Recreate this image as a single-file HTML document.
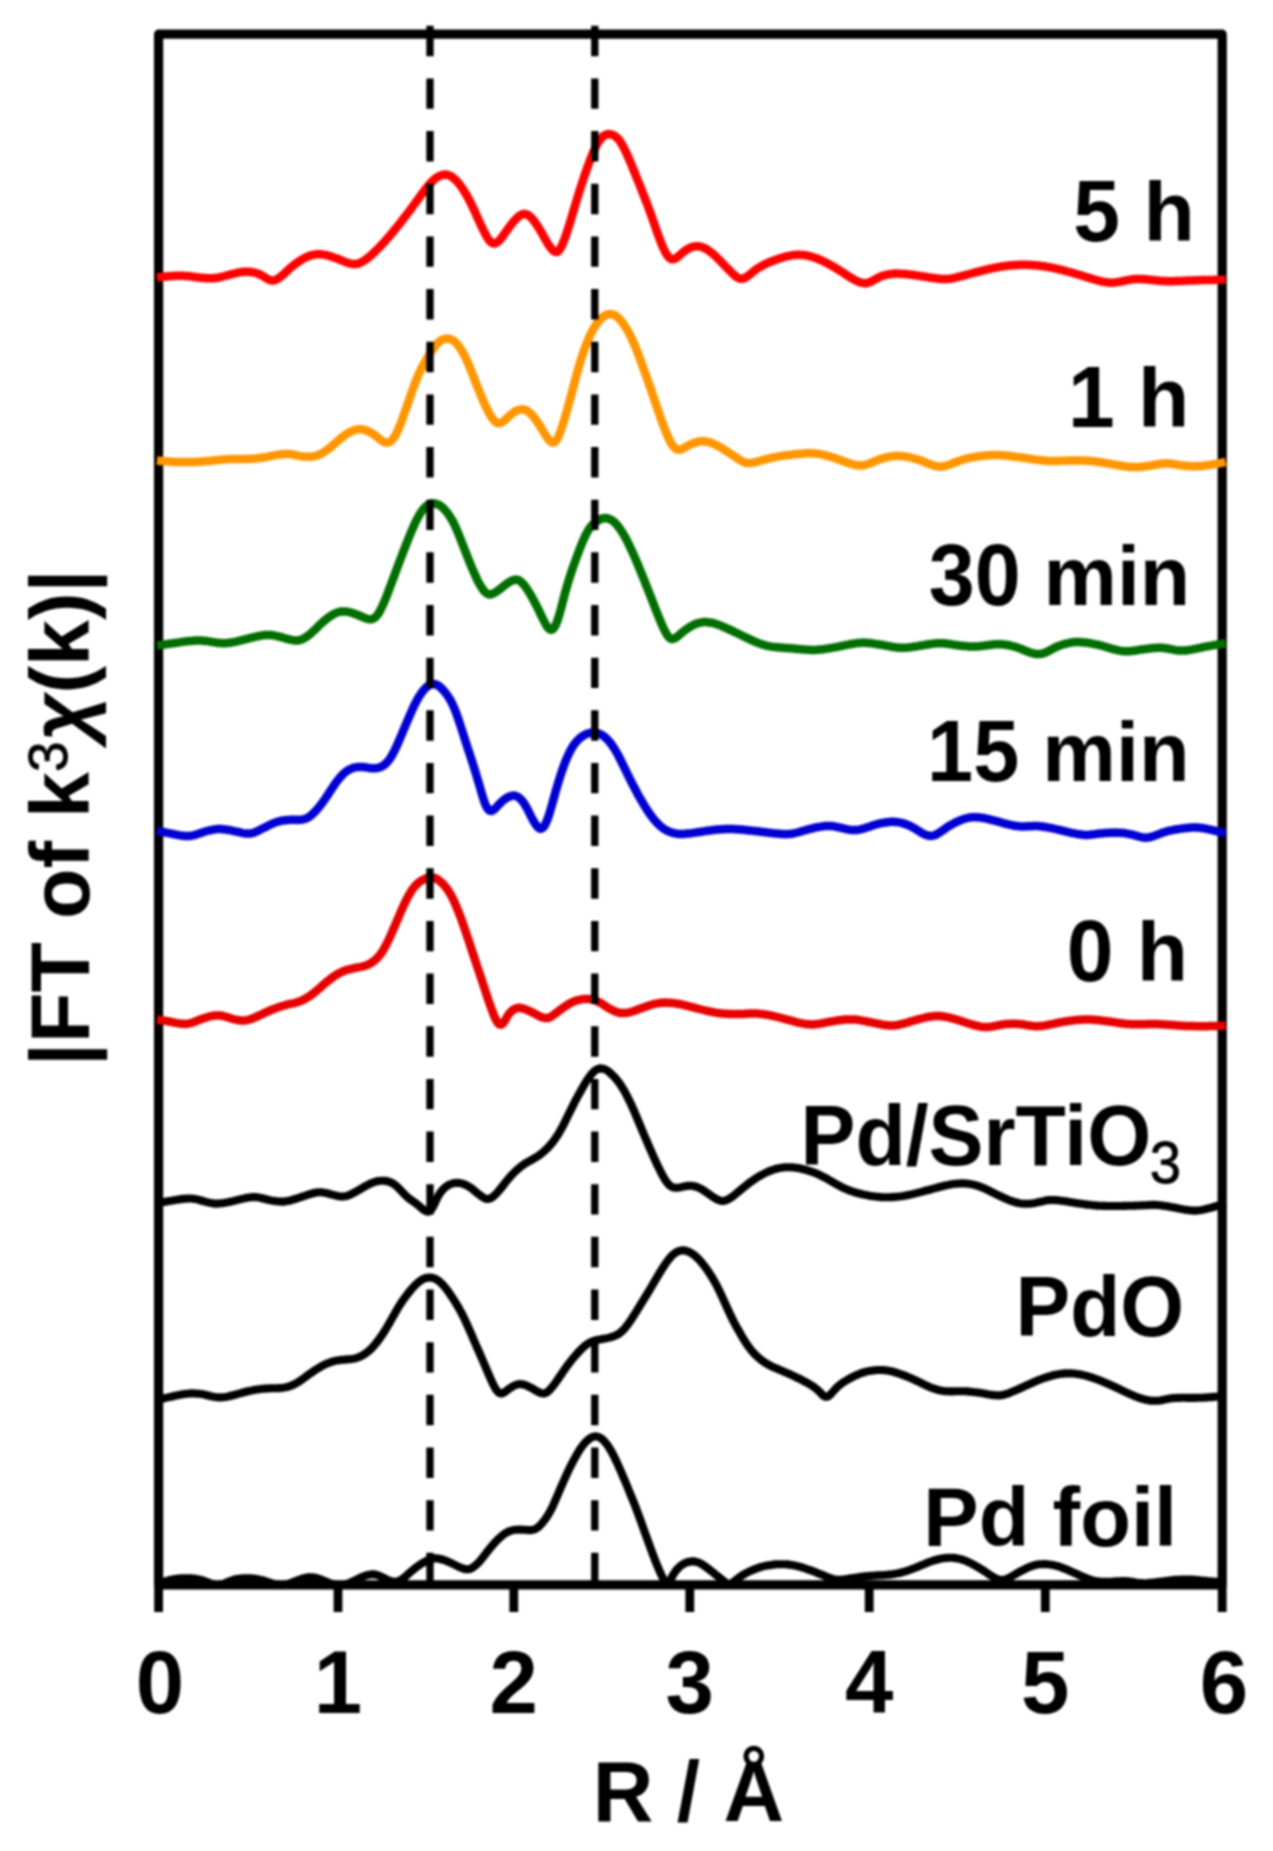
<!DOCTYPE html>
<html lang="en"><head><meta charset="utf-8"><title>EXAFS Fourier transforms</title>
<style>
html,body{margin:0;padding:0;background:#fff}
svg{display:block}
#fig{width:1273px;height:1851px;filter:blur(1px)}
text{font-family:"Liberation Sans",sans-serif;font-weight:bold;fill:#000}
</style></head><body>
<div id="fig">
<svg width="1273" height="1851" viewBox="0 0 1273 1851">
<rect width="1273" height="1851" fill="#fff"/>
<rect x="158.6" y="34.2" width="1063.6" height="1550.6" fill="none" stroke="#000" stroke-width="9.2" stroke-linejoin="round"/>
<g stroke="#000" stroke-width="8.8">
<line x1="158.6" y1="1584.8" x2="158.6" y2="1612"/>
<line x1="338" y1="1584.8" x2="338" y2="1612"/>
<line x1="513.8" y1="1584.8" x2="513.8" y2="1612"/>
<line x1="689.8" y1="1584.8" x2="689.8" y2="1612"/>
<line x1="869.2" y1="1584.8" x2="869.2" y2="1612"/>
<line x1="1045.3" y1="1584.8" x2="1045.3" y2="1612"/>
<line x1="1222.2" y1="1584.8" x2="1222.2" y2="1612"/>
</g>
<g fill="none" stroke-width="8.5" stroke-linejoin="round" stroke-linecap="butt">
<path stroke="#000" stroke-width="8.1" d="M157.0 1584.5L159.0 1583.7 161.0 1582.9 163.0 1582.2 165.0 1581.5 167.0 1580.9 169.0 1580.3 171.0 1579.8 173.0 1579.4 175.0 1579.0 177.0 1578.7 179.0 1578.5 181.0 1578.3 183.0 1578.2 185.0 1578.2 187.0 1578.2 189.0 1578.3 191.0 1578.4 193.0 1578.5 195.0 1578.8 197.0 1579.1 199.0 1579.5 201.0 1579.9 203.0 1580.5 205.0 1581.2 207.0 1582.0 209.0 1582.8 211.0 1583.6 213.0 1584.2 215.0 1584.7 217.0 1585.0 219.0 1584.9 221.0 1584.6 223.0 1584.0 225.0 1583.2 227.0 1582.3 229.0 1581.5 231.0 1580.7 233.0 1580.0 235.0 1579.5 237.0 1579.0 239.0 1578.7 241.0 1578.5 243.0 1578.3 245.0 1578.2 247.0 1578.2 249.0 1578.3 251.0 1578.4 253.0 1578.6 255.0 1578.8 257.0 1579.1 259.0 1579.5 261.0 1579.9 263.0 1580.4 265.1 1581.0 267.1 1581.7 269.1 1582.4 271.1 1583.1 273.1 1583.7 275.1 1584.3 277.1 1584.8 279.1 1585.0 281.1 1585.1 283.1 1584.9 285.1 1584.6 287.1 1584.2 289.1 1583.6 291.1 1582.9 293.1 1582.1 295.1 1581.3 297.1 1580.6 299.1 1579.8 301.1 1579.1 303.1 1578.4 305.1 1577.9 307.1 1577.5 309.1 1577.2 311.1 1577.2 313.1 1577.4 315.1 1577.7 317.1 1578.2 319.1 1578.9 321.1 1579.6 323.1 1580.4 325.1 1581.3 327.1 1582.1 329.1 1582.9 331.1 1583.6 333.1 1584.3 335.1 1584.8 337.1 1585.1 339.1 1585.3 341.1 1585.2 343.1 1585.0 345.1 1584.5 347.1 1583.8 349.1 1583.1 351.1 1582.2 353.1 1581.3 355.1 1580.3 357.1 1579.3 359.1 1578.3 361.1 1577.4 363.1 1576.5 365.1 1575.8 367.1 1575.1 369.1 1574.7 371.1 1574.4 373.1 1574.3 375.1 1574.5 377.1 1575.0 379.1 1575.7 381.1 1576.6 383.1 1577.6 385.1 1578.6 387.1 1579.6 389.1 1580.5 391.1 1581.2 393.1 1581.6 395.1 1581.8 397.1 1581.6 399.1 1580.9 401.1 1579.8 403.1 1578.5 405.1 1576.9 407.1 1575.1 409.1 1573.3 411.1 1571.5 413.1 1569.8 415.1 1568.2 417.1 1566.7 419.1 1565.3 421.1 1563.9 423.1 1562.7 425.1 1561.6 427.1 1560.6 429.1 1559.8 431.1 1559.1 433.1 1558.6 435.1 1558.4 437.1 1558.4 439.1 1558.7 441.1 1559.2 443.1 1559.7 445.1 1560.4 447.1 1561.2 449.1 1562.1 451.1 1563.0 453.1 1564.0 455.1 1565.0 457.1 1566.0 459.1 1567.0 461.1 1567.8 463.1 1568.5 465.1 1569.1 467.1 1569.3 469.1 1569.1 471.1 1568.5 473.1 1567.3 475.1 1565.8 477.1 1564.0 479.2 1561.9 481.2 1559.5 483.2 1557.0 485.2 1554.4 487.2 1551.8 489.2 1549.3 491.2 1546.8 493.2 1544.5 495.2 1542.2 497.2 1540.1 499.2 1538.2 501.2 1536.4 503.2 1534.8 505.2 1533.4 507.2 1532.2 509.2 1531.3 511.2 1530.6 513.2 1530.1 515.2 1529.8 517.2 1529.7 519.2 1529.6 521.2 1529.6 523.2 1529.7 525.2 1529.8 527.2 1530.0 529.2 1530.1 531.2 1530.1 533.2 1529.8 535.2 1529.1 537.2 1527.9 539.2 1526.3 541.2 1524.2 543.2 1521.9 545.2 1519.3 547.2 1516.4 549.2 1513.1 551.2 1509.4 553.2 1505.2 555.2 1500.7 557.2 1496.0 559.2 1491.3 561.2 1486.6 563.2 1482.1 565.2 1477.6 567.2 1473.3 569.2 1469.1 571.2 1465.0 573.2 1461.1 575.2 1457.4 577.2 1453.9 579.2 1450.6 581.2 1447.6 583.2 1444.9 585.2 1442.5 587.2 1440.6 589.2 1438.9 591.2 1437.6 593.2 1436.8 595.2 1436.4 597.2 1436.5 599.2 1437.2 601.2 1438.4 603.2 1440.1 605.2 1442.2 607.2 1444.8 609.2 1447.8 611.2 1451.1 613.2 1454.8 615.2 1458.9 617.2 1463.1 619.2 1467.6 621.2 1472.1 623.2 1476.8 625.2 1481.5 627.2 1486.3 629.2 1491.2 631.2 1496.1 633.2 1501.0 635.2 1506.1 637.2 1511.4 639.2 1516.7 641.2 1522.2 643.2 1527.8 645.2 1533.3 647.2 1538.9 649.2 1544.4 651.2 1549.9 653.2 1555.2 655.2 1560.5 657.2 1565.5 659.2 1570.2 661.2 1574.6 663.2 1578.8 665.2 1582.8 667.2 1583.9 669.2 1582.0 671.2 1578.5 673.2 1574.7 675.2 1571.6 677.2 1569.1 679.2 1567.1 681.2 1565.4 683.2 1564.1 685.2 1563.0 687.2 1562.2 689.2 1561.7 691.2 1561.4 693.3 1561.4 695.3 1561.6 697.3 1562.1 699.3 1562.8 701.3 1563.8 703.3 1565.1 705.3 1566.5 707.3 1568.0 709.3 1569.5 711.3 1571.1 713.3 1572.7 715.3 1574.3 717.3 1575.9 719.3 1577.5 721.3 1579.1 723.3 1580.7 725.3 1582.4 727.3 1583.7 729.3 1584.0 731.3 1583.3 733.3 1582.1 735.3 1580.6 737.3 1578.9 739.3 1577.4 741.3 1576.0 743.3 1574.7 745.3 1573.5 747.3 1572.5 749.3 1571.5 751.3 1570.6 753.3 1569.7 755.3 1568.9 757.3 1568.2 759.3 1567.5 761.3 1566.9 763.3 1566.4 765.3 1565.9 767.3 1565.5 769.3 1565.2 771.3 1564.9 773.3 1564.6 775.3 1564.4 777.3 1564.3 779.3 1564.2 781.3 1564.2 783.3 1564.2 785.3 1564.3 787.3 1564.4 789.3 1564.6 791.3 1564.9 793.3 1565.2 795.3 1565.6 797.3 1566.1 799.3 1566.6 801.3 1567.2 803.3 1567.8 805.3 1568.5 807.3 1569.2 809.3 1569.9 811.3 1570.6 813.3 1571.3 815.3 1572.1 817.3 1572.9 819.3 1573.7 821.3 1574.5 823.3 1575.3 825.3 1576.2 827.3 1577.0 829.3 1577.8 831.3 1578.5 833.3 1579.1 835.3 1579.6 837.3 1579.8 839.3 1579.9 841.3 1579.8 843.3 1579.5 845.3 1579.2 847.3 1578.9 849.3 1578.6 851.3 1578.3 853.3 1578.0 855.3 1577.7 857.3 1577.4 859.3 1577.1 861.3 1576.8 863.3 1576.6 865.3 1576.4 867.3 1576.1 869.3 1576.0 871.3 1575.8 873.3 1575.7 875.3 1575.5 877.3 1575.4 879.3 1575.3 881.3 1575.2 883.3 1575.1 885.3 1575.0 887.3 1574.8 889.3 1574.6 891.3 1574.4 893.3 1574.1 895.3 1573.8 897.3 1573.4 899.3 1573.0 901.3 1572.5 903.3 1571.9 905.4 1571.3 907.4 1570.7 909.4 1570.0 911.4 1569.3 913.4 1568.5 915.4 1567.8 917.4 1567.0 919.4 1566.1 921.4 1565.3 923.4 1564.5 925.4 1563.6 927.4 1562.8 929.4 1562.0 931.4 1561.3 933.4 1560.6 935.4 1560.0 937.4 1559.5 939.4 1559.0 941.4 1558.6 943.4 1558.3 945.4 1558.0 947.4 1557.9 949.4 1557.8 951.4 1557.8 953.4 1557.9 955.4 1558.1 957.4 1558.4 959.4 1558.9 961.4 1559.4 963.4 1560.0 965.4 1560.7 967.4 1561.6 969.4 1562.5 971.4 1563.5 973.4 1564.6 975.4 1565.7 977.4 1566.9 979.4 1568.0 981.4 1569.3 983.4 1570.5 985.4 1571.8 987.4 1573.2 989.4 1574.6 991.4 1575.9 993.4 1577.2 995.4 1578.2 997.4 1579.1 999.4 1579.7 1001.4 1580.0 1003.4 1579.9 1005.4 1579.4 1007.4 1578.7 1009.4 1577.7 1011.4 1576.6 1013.4 1575.4 1015.4 1574.2 1017.4 1573.0 1019.4 1571.9 1021.4 1570.8 1023.4 1569.8 1025.4 1568.8 1027.4 1567.9 1029.4 1567.0 1031.4 1566.2 1033.4 1565.6 1035.4 1565.0 1037.4 1564.6 1039.4 1564.3 1041.4 1564.2 1043.4 1564.1 1045.4 1564.1 1047.4 1564.2 1049.4 1564.5 1051.4 1564.7 1053.4 1565.1 1055.4 1565.6 1057.4 1566.1 1059.4 1566.7 1061.4 1567.4 1063.4 1568.2 1065.4 1569.0 1067.4 1569.8 1069.4 1570.7 1071.4 1571.6 1073.4 1572.5 1075.4 1573.4 1077.4 1574.3 1079.4 1575.2 1081.4 1576.1 1083.4 1576.9 1085.4 1577.8 1087.4 1578.6 1089.4 1579.3 1091.4 1580.0 1093.4 1580.6 1095.4 1581.0 1097.4 1581.4 1099.4 1581.6 1101.4 1581.8 1103.4 1581.8 1105.4 1581.8 1107.4 1581.8 1109.4 1581.8 1111.4 1581.7 1113.4 1581.5 1115.4 1581.4 1117.4 1581.3 1119.5 1581.2 1121.5 1581.1 1123.5 1581.0 1125.5 1581.1 1127.5 1581.2 1129.5 1581.4 1131.5 1581.7 1133.5 1582.0 1135.5 1582.4 1137.5 1582.7 1139.5 1583.0 1141.5 1583.1 1143.5 1583.2 1145.5 1583.2 1147.5 1583.1 1149.5 1582.9 1151.5 1582.7 1153.5 1582.5 1155.5 1582.3 1157.5 1582.0 1159.5 1581.7 1161.5 1581.5 1163.5 1581.2 1165.5 1581.0 1167.5 1580.7 1169.5 1580.5 1171.5 1580.3 1173.5 1580.1 1175.5 1579.9 1177.5 1579.8 1179.5 1579.7 1181.5 1579.6 1183.5 1579.5 1185.5 1579.5 1187.5 1579.5 1189.5 1579.5 1191.5 1579.6 1193.5 1579.8 1195.5 1579.9 1197.5 1580.1 1199.5 1580.3 1201.5 1580.5 1203.5 1580.7 1205.5 1580.9 1207.5 1581.1 1209.5 1581.2 1211.5 1581.4 1213.5 1581.5 1215.5 1581.7 1217.5 1581.8 1219.5 1581.9 1221.5 1582.1 1223.5 1582.2 1225.5 1582.3"/>
<path stroke="#000" stroke-width="8.1" d="M157.0 1400.0L159.0 1399.5 161.0 1399.0 163.0 1398.5 165.0 1398.0 167.0 1397.6 169.0 1397.1 171.0 1396.7 173.0 1396.2 175.0 1395.8 177.0 1395.4 179.0 1395.0 181.0 1394.6 183.0 1394.3 185.0 1394.0 187.0 1393.7 189.0 1393.5 191.0 1393.4 193.0 1393.4 195.0 1393.5 197.0 1393.6 199.0 1393.8 201.0 1394.0 203.0 1394.3 205.0 1394.7 207.0 1395.2 209.0 1395.7 211.0 1396.2 213.0 1396.6 215.0 1397.0 217.0 1397.2 219.0 1397.4 221.0 1397.4 223.0 1397.2 225.0 1397.0 227.0 1396.7 229.0 1396.3 231.0 1395.8 233.0 1395.3 235.0 1394.7 237.0 1394.2 239.0 1393.6 241.0 1393.1 243.0 1392.5 245.0 1392.0 247.0 1391.5 249.0 1391.0 251.0 1390.6 253.0 1390.2 255.0 1389.8 257.0 1389.5 259.0 1389.2 261.0 1389.0 263.0 1388.8 265.1 1388.6 267.1 1388.5 269.1 1388.4 271.1 1388.3 273.1 1388.3 275.1 1388.3 277.1 1388.2 279.1 1388.1 281.1 1388.0 283.1 1387.8 285.1 1387.4 287.1 1387.0 289.1 1386.4 291.1 1385.7 293.1 1384.8 295.1 1383.8 297.1 1382.7 299.1 1381.5 301.1 1380.1 303.1 1378.7 305.1 1377.3 307.1 1375.8 309.1 1374.3 311.1 1372.9 313.1 1371.5 315.1 1370.2 317.1 1368.9 319.1 1367.7 321.1 1366.5 323.1 1365.4 325.1 1364.4 327.1 1363.5 329.1 1362.7 331.1 1362.0 333.1 1361.4 335.1 1360.9 337.1 1360.5 339.1 1360.2 341.1 1359.9 343.1 1359.7 345.1 1359.6 347.1 1359.4 349.1 1359.3 351.1 1359.1 353.1 1358.8 355.1 1358.4 357.1 1357.8 359.1 1357.0 361.1 1356.1 363.1 1355.0 365.1 1353.8 367.1 1352.3 369.1 1350.7 371.1 1348.8 373.1 1346.7 375.1 1344.4 377.1 1341.9 379.1 1339.3 381.1 1336.4 383.1 1333.4 385.1 1330.3 387.1 1327.0 389.1 1323.6 391.1 1320.1 393.1 1316.4 395.1 1312.9 397.1 1309.4 399.1 1306.1 401.1 1303.0 403.1 1300.0 405.1 1297.3 407.1 1294.6 409.1 1292.1 411.1 1289.7 413.1 1287.4 415.1 1285.3 417.1 1283.4 419.1 1281.7 421.1 1280.2 423.1 1279.0 425.1 1278.2 427.1 1277.7 429.1 1277.5 431.1 1277.6 433.1 1278.0 435.1 1278.8 437.1 1279.9 439.1 1281.3 441.1 1283.0 443.1 1285.1 445.1 1287.4 447.1 1290.0 449.1 1292.7 451.1 1295.7 453.1 1298.7 455.1 1301.9 457.1 1305.2 459.1 1308.6 461.1 1312.2 463.1 1316.1 465.1 1320.3 467.1 1324.7 469.1 1329.2 471.1 1333.7 473.1 1338.3 475.1 1343.0 477.1 1347.6 479.2 1352.2 481.2 1356.8 483.2 1361.5 485.2 1366.2 487.2 1370.9 489.2 1375.6 491.2 1380.1 493.2 1384.4 495.2 1388.2 497.2 1391.1 499.2 1392.9 501.2 1393.5 503.2 1393.0 505.2 1391.8 507.2 1390.3 509.2 1388.7 511.2 1387.4 513.2 1386.2 515.2 1385.2 517.2 1384.5 519.2 1384.1 521.2 1384.1 523.2 1384.5 525.2 1385.1 527.2 1385.8 529.2 1386.8 531.2 1387.8 533.2 1389.0 535.2 1390.2 537.2 1391.4 539.2 1392.4 541.2 1393.1 543.2 1393.5 545.2 1393.2 547.2 1392.1 549.2 1390.4 551.2 1388.3 553.2 1385.8 555.2 1383.1 557.2 1380.3 559.2 1377.4 561.2 1374.4 563.2 1371.5 565.2 1368.6 567.2 1365.8 569.2 1363.2 571.2 1360.6 573.2 1358.1 575.2 1355.8 577.2 1353.5 579.2 1351.3 581.2 1349.3 583.2 1347.4 585.2 1345.7 587.2 1344.1 589.2 1342.9 591.2 1341.9 593.2 1341.1 595.2 1340.5 597.2 1340.0 599.2 1339.6 601.2 1339.2 603.2 1338.8 605.2 1338.5 607.2 1338.1 609.2 1337.6 611.2 1337.1 613.2 1336.4 615.2 1335.7 617.2 1334.7 619.2 1333.5 621.2 1331.9 623.2 1330.1 625.2 1327.8 627.2 1325.3 629.2 1322.5 631.2 1319.6 633.2 1316.5 635.2 1313.3 637.2 1310.1 639.2 1306.9 641.2 1303.6 643.2 1300.4 645.2 1297.2 647.2 1293.9 649.2 1290.6 651.2 1287.2 653.2 1283.8 655.2 1280.4 657.2 1277.0 659.2 1273.6 661.2 1270.3 663.2 1267.2 665.2 1264.2 667.2 1261.4 669.2 1258.8 671.2 1256.4 673.2 1254.4 675.2 1252.9 677.2 1251.7 679.2 1250.9 681.2 1250.5 683.2 1250.4 685.2 1250.6 687.2 1251.1 689.2 1252.0 691.2 1253.1 693.3 1254.4 695.3 1256.0 697.3 1257.9 699.3 1259.9 701.3 1262.2 703.3 1264.6 705.3 1267.2 707.3 1270.0 709.3 1273.0 711.3 1276.1 713.3 1279.4 715.3 1282.9 717.3 1286.7 719.3 1290.8 721.3 1295.0 723.3 1299.4 725.3 1303.8 727.3 1308.2 729.3 1312.5 731.3 1316.8 733.3 1320.9 735.3 1324.7 737.3 1328.3 739.3 1331.8 741.3 1335.3 743.3 1338.7 745.3 1341.9 747.3 1345.0 749.3 1347.7 751.3 1350.3 753.3 1352.6 755.3 1354.7 757.3 1356.6 759.3 1358.4 761.3 1360.0 763.3 1361.5 765.3 1362.8 767.3 1364.0 769.3 1365.1 771.3 1366.2 773.3 1367.1 775.3 1368.0 777.3 1368.8 779.3 1369.7 781.3 1370.5 783.3 1371.4 785.3 1372.2 787.3 1373.1 789.3 1374.0 791.3 1374.9 793.3 1375.9 795.3 1376.8 797.3 1377.8 799.3 1378.7 801.3 1379.7 803.3 1380.8 805.3 1381.8 807.3 1382.9 809.3 1384.1 811.3 1385.3 813.3 1386.6 815.3 1388.1 817.3 1389.7 819.3 1391.5 821.3 1393.6 823.3 1395.7 825.3 1396.8 827.3 1396.7 829.3 1395.5 831.3 1393.6 833.3 1391.4 835.3 1389.1 837.3 1387.0 839.3 1385.3 841.3 1383.7 843.3 1382.3 845.3 1381.1 847.3 1379.9 849.3 1378.7 851.3 1377.6 853.3 1376.6 855.3 1375.6 857.3 1374.7 859.3 1373.9 861.3 1373.1 863.3 1372.5 865.3 1371.9 867.3 1371.4 869.3 1371.0 871.3 1370.7 873.3 1370.4 875.3 1370.2 877.3 1370.0 879.3 1370.0 881.3 1370.0 883.3 1370.1 885.3 1370.3 887.3 1370.6 889.3 1370.9 891.3 1371.3 893.3 1371.8 895.3 1372.4 897.3 1373.0 899.3 1373.7 901.3 1374.4 903.3 1375.1 905.4 1375.9 907.4 1376.7 909.4 1377.6 911.4 1378.4 913.4 1379.3 915.4 1380.3 917.4 1381.2 919.4 1382.2 921.4 1383.2 923.4 1384.1 925.4 1385.1 927.4 1386.0 929.4 1386.9 931.4 1387.7 933.4 1388.4 935.4 1389.1 937.4 1389.7 939.4 1390.2 941.4 1390.6 943.4 1390.9 945.4 1391.2 947.4 1391.3 949.4 1391.4 951.4 1391.4 953.4 1391.4 955.4 1391.3 957.4 1391.2 959.4 1391.2 961.4 1391.2 963.4 1391.2 965.4 1391.3 967.4 1391.4 969.4 1391.6 971.4 1391.7 973.4 1392.0 975.4 1392.2 977.4 1392.5 979.4 1392.8 981.4 1393.1 983.4 1393.4 985.4 1393.8 987.4 1394.2 989.4 1394.5 991.4 1394.9 993.4 1395.1 995.4 1395.3 997.4 1395.4 999.4 1395.4 1001.4 1395.2 1003.4 1394.8 1005.4 1394.3 1007.4 1393.7 1009.4 1392.9 1011.4 1392.1 1013.4 1391.3 1015.4 1390.4 1017.4 1389.6 1019.4 1388.7 1021.4 1387.8 1023.4 1386.9 1025.4 1385.9 1027.4 1385.0 1029.4 1384.1 1031.4 1383.2 1033.4 1382.3 1035.4 1381.4 1037.4 1380.6 1039.4 1379.8 1041.4 1379.0 1043.4 1378.3 1045.4 1377.6 1047.4 1377.0 1049.4 1376.4 1051.4 1375.8 1053.4 1375.3 1055.4 1374.8 1057.4 1374.4 1059.4 1374.1 1061.4 1373.8 1063.4 1373.6 1065.4 1373.4 1067.4 1373.4 1069.4 1373.4 1071.4 1373.4 1073.4 1373.5 1075.4 1373.7 1077.4 1374.0 1079.4 1374.3 1081.4 1374.7 1083.4 1375.1 1085.4 1375.6 1087.4 1376.2 1089.4 1376.8 1091.4 1377.4 1093.4 1378.1 1095.4 1378.8 1097.4 1379.5 1099.4 1380.3 1101.4 1381.1 1103.4 1381.9 1105.4 1382.8 1107.4 1383.6 1109.4 1384.5 1111.4 1385.4 1113.4 1386.3 1115.4 1387.2 1117.4 1388.2 1119.5 1389.2 1121.5 1390.1 1123.5 1391.1 1125.5 1392.0 1127.5 1393.0 1129.5 1393.9 1131.5 1394.8 1133.5 1395.6 1135.5 1396.5 1137.5 1397.2 1139.5 1397.9 1141.5 1398.6 1143.5 1399.1 1145.5 1399.7 1147.5 1400.1 1149.5 1400.4 1151.5 1400.7 1153.5 1400.8 1155.5 1400.8 1157.5 1400.7 1159.5 1400.5 1161.5 1400.2 1163.5 1399.8 1165.5 1399.4 1167.5 1399.0 1169.5 1398.6 1171.5 1398.3 1173.5 1398.1 1175.5 1398.0 1177.5 1397.9 1179.5 1397.9 1181.5 1397.8 1183.5 1397.8 1185.5 1397.8 1187.5 1397.9 1189.5 1397.9 1191.5 1397.9 1193.5 1397.9 1195.5 1397.9 1197.5 1397.8 1199.5 1397.8 1201.5 1397.7 1203.5 1397.6 1205.5 1397.5 1207.5 1397.4 1209.5 1397.3 1211.5 1397.1 1213.5 1396.9 1215.5 1396.7 1217.5 1396.5 1219.5 1396.2 1221.5 1396.0 1223.5 1395.7 1225.5 1395.4"/>
<path stroke="#000" stroke-width="8.1" d="M157.0 1203.0L159.0 1202.7 161.0 1202.4 163.0 1202.1 165.0 1201.7 167.0 1201.4 169.0 1201.1 171.0 1200.8 173.0 1200.4 175.0 1200.1 177.0 1199.8 179.0 1199.4 181.0 1199.1 183.0 1198.9 185.0 1198.7 187.0 1198.6 189.0 1198.5 191.0 1198.5 193.0 1198.7 195.0 1199.0 197.0 1199.4 199.0 1199.9 201.0 1200.5 203.0 1201.0 205.0 1201.6 207.0 1202.1 209.0 1202.6 211.0 1203.0 213.0 1203.4 215.0 1203.6 217.0 1203.6 219.0 1203.5 221.0 1203.3 223.0 1203.1 225.0 1202.8 227.0 1202.4 229.0 1202.0 231.0 1201.5 233.0 1201.1 235.0 1200.6 237.0 1200.1 239.0 1199.6 241.0 1199.1 243.0 1198.6 245.0 1198.2 247.0 1197.8 249.0 1197.5 251.0 1197.3 253.0 1197.1 255.0 1197.1 257.0 1197.3 259.0 1197.6 261.0 1198.0 263.0 1198.5 265.1 1199.0 267.1 1199.5 269.1 1200.0 271.1 1200.4 273.1 1200.7 275.1 1201.1 277.1 1201.3 279.1 1201.5 281.1 1201.6 283.1 1201.6 285.1 1201.4 287.1 1201.1 289.1 1200.7 291.1 1200.2 293.1 1199.6 295.1 1199.0 297.1 1198.4 299.1 1197.7 301.1 1197.0 303.1 1196.4 305.1 1195.7 307.1 1195.0 309.1 1194.4 311.1 1193.8 313.1 1193.3 315.1 1192.8 317.1 1192.5 319.1 1192.3 321.1 1192.3 323.1 1192.5 325.1 1192.9 327.1 1193.3 329.1 1193.8 331.1 1194.4 333.1 1194.9 335.1 1195.4 337.1 1195.9 339.1 1196.2 341.1 1196.5 343.1 1196.5 345.1 1196.3 347.1 1195.9 349.1 1195.1 351.1 1194.2 353.1 1193.2 355.1 1192.1 357.1 1191.0 359.1 1189.9 361.1 1188.7 363.1 1187.5 365.1 1186.4 367.1 1185.3 369.1 1184.2 371.1 1183.3 373.1 1182.5 375.1 1181.8 377.1 1181.3 379.1 1181.0 381.1 1180.7 383.1 1180.7 385.1 1180.8 387.1 1181.2 389.1 1181.7 391.1 1182.5 393.1 1183.6 395.1 1185.0 397.1 1186.7 399.1 1188.6 401.1 1190.7 403.1 1192.9 405.1 1195.0 407.1 1196.9 409.1 1198.5 411.1 1200.0 413.1 1201.4 415.1 1202.8 417.1 1204.3 419.1 1205.9 421.1 1207.7 423.1 1209.4 425.1 1210.8 427.1 1211.6 429.1 1211.4 431.1 1209.9 433.1 1206.7 435.1 1202.5 437.1 1198.1 439.1 1194.5 441.1 1191.6 443.1 1189.3 445.1 1187.4 447.1 1185.9 449.1 1184.8 451.1 1184.0 453.1 1183.3 455.1 1183.0 457.1 1182.8 459.1 1183.0 461.1 1183.3 463.1 1183.9 465.1 1184.6 467.1 1185.6 469.1 1186.7 471.1 1188.1 473.1 1189.6 475.1 1191.3 477.1 1193.0 479.2 1194.6 481.2 1196.1 483.2 1197.5 485.2 1198.5 487.2 1199.0 489.2 1198.8 491.2 1198.0 493.2 1196.6 495.2 1194.8 497.2 1192.7 499.2 1190.4 501.2 1187.9 503.2 1185.4 505.2 1182.8 507.2 1180.3 509.2 1177.9 511.2 1175.6 513.2 1173.5 515.2 1171.5 517.2 1169.7 519.2 1168.0 521.2 1166.3 523.2 1164.9 525.2 1163.5 527.2 1162.3 529.2 1161.2 531.2 1160.1 533.2 1159.0 535.2 1157.8 537.2 1156.6 539.2 1155.2 541.2 1153.7 543.2 1152.1 545.2 1150.3 547.2 1148.4 549.2 1146.3 551.2 1144.0 553.2 1141.5 555.2 1138.8 557.2 1135.8 559.2 1132.6 561.2 1129.1 563.2 1125.4 565.2 1121.4 567.2 1117.3 569.2 1113.2 571.2 1109.1 573.2 1105.1 575.2 1101.2 577.2 1097.4 579.2 1093.8 581.2 1090.2 583.2 1086.6 585.2 1083.2 587.2 1080.0 589.2 1077.1 591.2 1074.5 593.2 1072.2 595.2 1070.5 597.2 1069.3 599.2 1068.6 601.2 1068.4 603.2 1068.7 605.2 1069.4 607.2 1070.6 609.2 1072.1 611.2 1073.8 613.2 1075.8 615.2 1077.9 617.2 1080.3 619.2 1082.9 621.2 1085.8 623.2 1089.1 625.2 1092.6 627.2 1096.4 629.2 1100.4 631.2 1104.6 633.2 1109.0 635.2 1113.6 637.2 1118.4 639.2 1123.1 641.2 1128.0 643.2 1132.8 645.2 1137.5 647.2 1142.2 649.2 1146.9 651.2 1151.4 653.2 1155.9 655.2 1160.4 657.2 1164.7 659.2 1168.8 661.2 1172.8 663.2 1176.5 665.2 1179.9 667.2 1182.8 669.2 1185.0 671.2 1186.6 673.2 1187.4 675.2 1187.8 677.2 1187.8 679.2 1187.5 681.2 1187.1 683.2 1186.6 685.2 1186.2 687.2 1185.9 689.2 1185.7 691.2 1185.8 693.3 1186.0 695.3 1186.5 697.3 1187.1 699.3 1188.0 701.3 1189.0 703.3 1190.2 705.3 1191.6 707.3 1193.0 709.3 1194.4 711.3 1195.8 713.3 1197.2 715.3 1198.4 717.3 1199.5 719.3 1200.4 721.3 1200.9 723.3 1201.0 725.3 1200.6 727.3 1199.8 729.3 1198.7 731.3 1197.4 733.3 1195.9 735.3 1194.3 737.3 1192.7 739.3 1191.0 741.3 1189.4 743.3 1187.7 745.3 1186.1 747.3 1184.5 749.3 1182.9 751.3 1181.5 753.3 1180.1 755.3 1178.7 757.3 1177.4 759.3 1176.2 761.3 1175.1 763.3 1174.0 765.3 1173.0 767.3 1172.0 769.3 1171.1 771.3 1170.4 773.3 1169.7 775.3 1169.0 777.3 1168.5 779.3 1168.1 781.3 1167.7 783.3 1167.5 785.3 1167.3 787.3 1167.2 789.3 1167.2 791.3 1167.3 793.3 1167.4 795.3 1167.7 797.3 1167.9 799.3 1168.3 801.3 1168.7 803.3 1169.2 805.3 1169.8 807.3 1170.3 809.3 1171.0 811.3 1171.6 813.3 1172.3 815.3 1173.1 817.3 1173.9 819.3 1174.8 821.3 1175.8 823.3 1176.8 825.3 1177.8 827.3 1178.9 829.3 1180.1 831.3 1181.3 833.3 1182.4 835.3 1183.6 837.3 1184.7 839.3 1185.8 841.3 1186.9 843.3 1187.9 845.3 1188.8 847.3 1189.6 849.3 1190.4 851.3 1191.1 853.3 1191.8 855.3 1192.4 857.3 1193.0 859.3 1193.5 861.3 1194.0 863.3 1194.5 865.3 1194.9 867.3 1195.3 869.3 1195.7 871.3 1196.0 873.3 1196.3 875.3 1196.5 877.3 1196.8 879.3 1196.9 881.3 1197.1 883.3 1197.2 885.3 1197.2 887.3 1197.2 889.3 1197.2 891.3 1197.1 893.3 1197.1 895.3 1196.9 897.3 1196.8 899.3 1196.5 901.3 1196.3 903.3 1196.0 905.4 1195.6 907.4 1195.2 909.4 1194.8 911.4 1194.4 913.4 1193.9 915.4 1193.4 917.4 1192.9 919.4 1192.4 921.4 1191.9 923.4 1191.3 925.4 1190.8 927.4 1190.2 929.4 1189.7 931.4 1189.2 933.4 1188.6 935.4 1188.1 937.4 1187.5 939.4 1187.0 941.4 1186.5 943.4 1186.0 945.4 1185.5 947.4 1185.1 949.4 1184.7 951.4 1184.3 953.4 1184.0 955.4 1183.8 957.4 1183.6 959.4 1183.5 961.4 1183.4 963.4 1183.4 965.4 1183.5 967.4 1183.6 969.4 1183.9 971.4 1184.2 973.4 1184.6 975.4 1185.2 977.4 1185.7 979.4 1186.4 981.4 1187.2 983.4 1188.0 985.4 1188.9 987.4 1189.9 989.4 1190.8 991.4 1191.8 993.4 1192.8 995.4 1193.8 997.4 1194.8 999.4 1195.8 1001.4 1196.7 1003.4 1197.7 1005.4 1198.5 1007.4 1199.4 1009.4 1200.2 1011.4 1201.0 1013.4 1201.6 1015.4 1202.3 1017.4 1202.8 1019.4 1203.2 1021.4 1203.5 1023.4 1203.7 1025.4 1203.8 1027.4 1203.8 1029.4 1203.7 1031.4 1203.5 1033.4 1203.2 1035.4 1202.9 1037.4 1202.4 1039.4 1202.0 1041.4 1201.5 1043.4 1201.1 1045.4 1200.6 1047.4 1200.3 1049.4 1200.1 1051.4 1200.0 1053.4 1200.0 1055.4 1200.1 1057.4 1200.3 1059.4 1200.5 1061.4 1200.7 1063.4 1201.0 1065.4 1201.3 1067.4 1201.6 1069.4 1201.9 1071.4 1202.3 1073.4 1202.6 1075.4 1202.9 1077.4 1203.2 1079.4 1203.5 1081.4 1203.8 1083.4 1204.1 1085.4 1204.4 1087.4 1204.6 1089.4 1204.8 1091.4 1205.1 1093.4 1205.2 1095.4 1205.4 1097.4 1205.6 1099.4 1205.7 1101.4 1205.8 1103.4 1205.9 1105.4 1205.9 1107.4 1206.0 1109.4 1206.0 1111.4 1206.0 1113.4 1206.0 1115.4 1206.0 1117.4 1206.0 1119.5 1206.0 1121.5 1206.0 1123.5 1205.9 1125.5 1205.9 1127.5 1205.8 1129.5 1205.8 1131.5 1205.7 1133.5 1205.7 1135.5 1205.6 1137.5 1205.5 1139.5 1205.5 1141.5 1205.4 1143.5 1205.3 1145.5 1205.2 1147.5 1205.1 1149.5 1205.0 1151.5 1204.9 1153.5 1204.8 1155.5 1204.9 1157.5 1205.0 1159.5 1205.2 1161.5 1205.4 1163.5 1205.7 1165.5 1206.0 1167.5 1206.3 1169.5 1206.7 1171.5 1207.1 1173.5 1207.4 1175.5 1207.8 1177.5 1208.2 1179.5 1208.6 1181.5 1209.0 1183.5 1209.4 1185.5 1209.7 1187.5 1210.0 1189.5 1210.3 1191.5 1210.5 1193.5 1210.6 1195.5 1210.6 1197.5 1210.5 1199.5 1210.3 1201.5 1210.0 1203.5 1209.6 1205.5 1209.1 1207.5 1208.6 1209.5 1208.1 1211.5 1207.6 1213.5 1207.0 1215.5 1206.4 1217.5 1205.8 1219.5 1205.2 1221.5 1204.5 1223.5 1203.9 1225.5 1203.2"/>
<path stroke="#e60000" d="M157.0 1019.5L159.0 1019.8 161.0 1020.1 163.0 1020.5 165.0 1020.8 167.0 1021.1 169.0 1021.5 171.0 1021.9 173.0 1022.3 175.0 1022.7 177.0 1023.1 179.0 1023.4 181.0 1023.7 183.0 1023.8 185.0 1023.9 187.0 1023.8 189.0 1023.5 191.0 1023.0 193.0 1022.4 195.0 1021.6 197.0 1020.8 199.0 1020.0 201.0 1019.3 203.0 1018.5 205.0 1017.9 207.0 1017.3 209.0 1016.7 211.0 1016.2 213.0 1015.8 215.0 1015.5 217.0 1015.4 219.0 1015.4 221.0 1015.6 223.0 1016.0 225.0 1016.5 227.0 1017.1 229.0 1017.8 231.0 1018.4 233.0 1019.0 235.0 1019.5 237.0 1019.9 239.0 1020.3 241.0 1020.5 243.0 1020.6 245.0 1020.5 247.0 1020.1 249.0 1019.6 251.0 1019.0 253.0 1018.2 255.0 1017.4 257.0 1016.5 259.0 1015.6 261.0 1014.7 263.0 1013.7 265.1 1012.7 267.1 1011.8 269.1 1010.9 271.1 1010.0 273.1 1009.2 275.1 1008.4 277.1 1007.7 279.1 1007.0 281.1 1006.4 283.1 1005.8 285.1 1005.2 287.1 1004.6 289.1 1004.2 291.1 1003.7 293.1 1003.3 295.1 1002.8 297.1 1002.2 299.1 1001.6 301.1 1000.8 303.1 999.9 305.1 998.9 307.1 997.7 309.1 996.4 311.1 995.0 313.1 993.5 315.1 991.9 317.1 990.3 319.1 988.6 321.1 986.8 323.1 985.0 325.1 983.3 327.1 981.6 329.1 980.0 331.1 978.5 333.1 977.0 335.1 975.6 337.1 974.3 339.1 973.2 341.1 972.2 343.1 971.3 345.1 970.5 347.1 969.8 349.1 969.3 351.1 968.8 353.1 968.3 355.1 967.9 357.1 967.5 359.1 967.2 361.1 966.8 363.1 966.4 365.1 965.8 367.1 965.1 369.1 964.2 371.1 963.0 373.1 961.6 375.1 960.0 377.1 958.2 379.1 956.0 381.1 953.4 383.1 950.4 385.1 946.8 387.1 942.9 389.1 938.8 391.1 934.4 393.1 929.8 395.1 925.2 397.1 920.5 399.1 915.9 401.1 911.2 403.1 906.7 405.1 902.4 407.1 898.4 409.1 894.7 411.1 891.4 413.1 888.4 415.1 886.0 417.1 883.9 419.1 882.2 421.1 880.9 423.1 879.7 425.1 878.7 427.1 877.9 429.1 877.4 431.1 877.2 433.1 877.4 435.1 878.1 437.1 879.1 439.1 880.5 441.1 882.2 443.1 884.1 445.1 886.3 447.1 888.9 449.1 891.8 451.1 895.3 453.1 899.2 455.1 903.6 457.1 908.3 459.1 913.3 461.1 918.6 463.1 924.2 465.1 930.0 467.1 936.0 469.1 941.9 471.1 948.0 473.1 954.1 475.1 960.1 477.1 966.2 479.2 972.3 481.2 978.4 483.2 984.5 485.2 990.5 487.2 996.6 489.2 1002.5 491.2 1008.2 493.2 1013.5 495.2 1018.3 497.2 1022.1 499.2 1024.3 501.2 1024.7 503.2 1023.1 505.2 1020.1 507.2 1016.7 509.2 1013.6 511.2 1011.5 513.2 1009.8 515.2 1008.7 517.2 1008.0 519.2 1007.8 521.2 1008.0 523.2 1008.6 525.2 1009.3 527.2 1010.1 529.2 1010.9 531.2 1011.9 533.2 1012.9 535.2 1013.9 537.2 1015.0 539.2 1016.1 541.2 1017.0 543.2 1017.7 545.2 1018.1 547.2 1018.1 549.2 1017.6 551.2 1016.5 553.2 1015.2 555.2 1013.6 557.2 1012.1 559.2 1010.6 561.2 1009.2 563.2 1007.7 565.2 1006.4 567.2 1005.1 569.2 1003.8 571.2 1002.7 573.2 1001.7 575.2 1000.9 577.2 1000.3 579.2 999.8 581.2 999.4 583.2 999.1 585.2 999.0 587.2 999.0 589.2 999.1 591.2 999.4 593.2 999.8 595.2 1000.4 597.2 1001.2 599.2 1002.2 601.2 1003.3 603.2 1004.6 605.2 1005.9 607.2 1007.2 609.2 1008.5 611.2 1009.5 613.2 1010.5 615.2 1011.4 617.2 1012.1 619.2 1012.7 621.2 1013.0 623.2 1013.1 625.2 1013.0 627.2 1012.7 629.2 1012.3 631.2 1011.8 633.2 1011.2 635.2 1010.5 637.2 1009.8 639.2 1009.1 641.2 1008.3 643.2 1007.6 645.2 1006.9 647.2 1006.1 649.2 1005.5 651.2 1004.8 653.2 1004.2 655.2 1003.8 657.2 1003.4 659.2 1003.1 661.2 1002.8 663.2 1002.7 665.2 1002.6 667.2 1002.7 669.2 1002.8 671.2 1002.9 673.2 1003.1 675.2 1003.4 677.2 1003.7 679.2 1004.0 681.2 1004.4 683.2 1004.8 685.2 1005.3 687.2 1005.8 689.2 1006.3 691.2 1006.8 693.3 1007.4 695.3 1007.9 697.3 1008.5 699.3 1009.0 701.3 1009.5 703.3 1010.0 705.3 1010.5 707.3 1011.0 709.3 1011.4 711.3 1011.8 713.3 1012.2 715.3 1012.6 717.3 1012.9 719.3 1013.1 721.3 1013.4 723.3 1013.6 725.3 1013.7 727.3 1013.8 729.3 1013.9 731.3 1014.0 733.3 1014.0 735.3 1014.0 737.3 1014.0 739.3 1014.0 741.3 1013.9 743.3 1013.9 745.3 1013.8 747.3 1013.7 749.3 1013.6 751.3 1013.6 753.3 1013.6 755.3 1013.6 757.3 1013.6 759.3 1013.8 761.3 1013.9 763.3 1014.2 765.3 1014.5 767.3 1014.8 769.3 1015.2 771.3 1015.6 773.3 1016.0 775.3 1016.5 777.3 1017.0 779.3 1017.5 781.3 1018.0 783.3 1018.5 785.3 1019.1 787.3 1019.6 789.3 1020.2 791.3 1020.7 793.3 1021.2 795.3 1021.8 797.3 1022.3 799.3 1022.8 801.3 1023.2 803.3 1023.6 805.3 1023.9 807.3 1024.2 809.3 1024.3 811.3 1024.4 813.3 1024.4 815.3 1024.2 817.3 1024.0 819.3 1023.7 821.3 1023.4 823.3 1023.0 825.3 1022.6 827.3 1022.2 829.3 1021.8 831.3 1021.5 833.3 1021.2 835.3 1020.8 837.3 1020.5 839.3 1020.2 841.3 1020.0 843.3 1019.8 845.3 1019.6 847.3 1019.5 849.3 1019.4 851.3 1019.4 853.3 1019.5 855.3 1019.6 857.3 1019.8 859.3 1020.1 861.3 1020.4 863.3 1020.8 865.3 1021.2 867.3 1021.6 869.3 1022.0 871.3 1022.4 873.3 1022.8 875.3 1023.2 877.3 1023.6 879.3 1024.0 881.3 1024.4 883.3 1024.8 885.3 1025.1 887.3 1025.3 889.3 1025.5 891.3 1025.5 893.3 1025.5 895.3 1025.3 897.3 1025.0 899.3 1024.6 901.3 1024.1 903.3 1023.6 905.4 1023.1 907.4 1022.5 909.4 1021.9 911.4 1021.3 913.4 1020.7 915.4 1020.1 917.4 1019.6 919.4 1019.0 921.4 1018.5 923.4 1018.0 925.4 1017.5 927.4 1017.1 929.4 1016.7 931.4 1016.4 933.4 1016.2 935.4 1016.1 937.4 1016.0 939.4 1016.0 941.4 1016.2 943.4 1016.4 945.4 1016.8 947.4 1017.2 949.4 1017.6 951.4 1018.2 953.4 1018.7 955.4 1019.3 957.4 1019.9 959.4 1020.5 961.4 1021.1 963.4 1021.8 965.4 1022.4 967.4 1023.1 969.4 1023.7 971.4 1024.3 973.4 1024.9 975.4 1025.5 977.4 1025.9 979.4 1026.4 981.4 1026.7 983.4 1026.9 985.4 1027.0 987.4 1027.0 989.4 1026.9 991.4 1026.6 993.4 1026.3 995.4 1025.9 997.4 1025.5 999.4 1025.1 1001.4 1024.7 1003.4 1024.4 1005.4 1024.1 1007.4 1024.0 1009.4 1023.9 1011.4 1023.8 1013.4 1023.8 1015.4 1023.8 1017.4 1023.9 1019.4 1024.1 1021.4 1024.3 1023.4 1024.5 1025.4 1024.9 1027.4 1025.2 1029.4 1025.5 1031.4 1025.8 1033.4 1026.0 1035.4 1026.2 1037.4 1026.2 1039.4 1026.1 1041.4 1025.9 1043.4 1025.7 1045.4 1025.4 1047.4 1025.0 1049.4 1024.6 1051.4 1024.2 1053.4 1023.8 1055.4 1023.3 1057.4 1022.9 1059.4 1022.5 1061.4 1022.2 1063.4 1021.8 1065.4 1021.5 1067.4 1021.2 1069.4 1020.9 1071.4 1020.6 1073.4 1020.4 1075.4 1020.1 1077.4 1019.9 1079.4 1019.8 1081.4 1019.7 1083.4 1019.6 1085.4 1019.5 1087.4 1019.5 1089.4 1019.5 1091.4 1019.6 1093.4 1019.7 1095.4 1019.9 1097.4 1020.0 1099.4 1020.2 1101.4 1020.5 1103.4 1020.7 1105.4 1021.0 1107.4 1021.2 1109.4 1021.5 1111.4 1021.8 1113.4 1022.1 1115.4 1022.4 1117.4 1022.7 1119.5 1023.0 1121.5 1023.3 1123.5 1023.5 1125.5 1023.8 1127.5 1024.0 1129.5 1024.1 1131.5 1024.2 1133.5 1024.3 1135.5 1024.3 1137.5 1024.3 1139.5 1024.3 1141.5 1024.3 1143.5 1024.2 1145.5 1024.2 1147.5 1024.1 1149.5 1024.1 1151.5 1024.1 1153.5 1024.0 1155.5 1024.1 1157.5 1024.1 1159.5 1024.2 1161.5 1024.3 1163.5 1024.4 1165.5 1024.5 1167.5 1024.7 1169.5 1024.8 1171.5 1025.0 1173.5 1025.1 1175.5 1025.3 1177.5 1025.4 1179.5 1025.5 1181.5 1025.7 1183.5 1025.8 1185.5 1025.9 1187.5 1025.9 1189.5 1026.0 1191.5 1026.1 1193.5 1026.1 1195.5 1026.2 1197.5 1026.2 1199.5 1026.2 1201.5 1026.2 1203.5 1026.2 1205.5 1026.2 1207.5 1026.2 1209.5 1026.1 1211.5 1026.1 1213.5 1026.0 1215.5 1025.9 1217.5 1025.9 1219.5 1025.8 1221.5 1025.7 1223.5 1025.6 1225.5 1025.5"/>
<path stroke="#0000d2" d="M157.0 830.8L159.0 831.2 161.0 831.6 163.0 832.0 165.0 832.4 167.0 832.8 169.0 833.2 171.0 833.6 173.0 834.0 175.0 834.4 177.0 834.8 179.0 835.2 181.0 835.5 183.0 835.7 185.0 835.9 187.0 836.0 189.0 835.9 191.0 835.7 193.0 835.4 195.0 834.9 197.0 834.2 199.0 833.6 201.0 832.9 203.0 832.2 205.0 831.5 207.0 831.0 209.0 830.5 211.0 830.1 213.0 829.7 215.0 829.4 217.0 829.1 219.0 829.0 221.0 829.0 223.0 829.2 225.0 829.4 227.0 829.7 229.0 830.0 231.0 830.4 233.0 830.9 235.0 831.3 237.0 831.7 239.0 832.2 241.0 832.7 243.0 833.1 245.0 833.4 247.0 833.6 249.0 833.6 251.0 833.4 253.0 832.9 255.0 832.2 257.0 831.3 259.0 830.4 261.0 829.3 263.0 828.3 265.1 827.3 267.1 826.3 269.1 825.3 271.1 824.3 273.1 823.4 275.1 822.6 277.1 821.9 279.1 821.3 281.1 820.8 283.1 820.5 285.1 820.2 287.1 820.0 289.1 819.9 291.1 819.8 293.1 819.8 295.1 819.8 297.1 819.9 299.1 819.8 301.1 819.7 303.1 819.4 305.1 818.9 307.1 818.1 309.1 816.9 311.1 815.4 313.1 813.6 315.1 811.6 317.1 809.4 319.1 807.0 321.1 804.4 323.1 801.7 325.1 798.9 327.1 796.0 329.1 792.9 331.1 789.8 333.1 786.8 335.1 783.8 337.1 781.1 339.1 778.6 341.1 776.3 343.1 774.2 345.1 772.4 347.1 770.9 349.1 769.7 351.1 768.7 353.1 767.9 355.1 767.4 357.1 767.1 359.1 766.9 361.1 766.9 363.1 767.1 365.1 767.3 367.1 767.6 369.1 767.9 371.1 768.2 373.1 768.3 375.1 768.3 377.1 768.0 379.1 767.6 381.1 766.8 383.1 765.7 385.1 764.3 387.1 762.3 389.1 759.9 391.1 756.9 393.1 753.4 395.1 749.4 397.1 745.1 399.1 740.6 401.1 735.9 403.1 731.2 405.1 726.4 407.1 721.7 409.1 717.0 411.1 712.4 413.1 707.9 415.1 703.7 417.1 699.9 419.1 696.5 421.1 693.5 423.1 690.8 425.1 688.5 427.1 686.6 429.1 685.2 431.1 684.3 433.1 684.0 435.1 684.2 437.1 685.0 439.1 686.2 441.1 687.9 443.1 690.0 445.1 692.4 447.1 695.0 449.1 698.0 451.1 701.4 453.1 705.5 455.1 710.2 457.1 715.6 459.1 721.4 461.1 727.5 463.1 733.7 465.1 740.0 467.1 746.2 469.1 752.3 471.1 758.4 473.1 764.5 475.1 770.9 477.1 777.5 479.2 784.6 481.2 791.7 483.2 798.4 485.2 804.1 487.2 808.1 489.2 810.4 491.2 811.0 493.2 810.1 495.2 808.5 497.2 806.4 499.2 804.2 501.2 802.2 503.2 800.4 505.2 798.9 507.2 797.6 509.2 796.6 511.2 796.0 513.2 795.6 515.2 795.8 517.2 796.5 519.2 797.8 521.2 799.6 523.2 802.1 525.2 805.1 527.2 808.7 529.2 812.7 531.2 816.7 533.2 820.4 535.2 823.8 537.2 826.5 539.2 828.3 541.2 828.8 543.2 827.5 545.2 824.6 547.2 820.1 549.2 814.3 551.2 807.6 553.2 800.5 555.2 793.2 557.2 786.1 559.2 779.5 561.2 773.3 563.2 767.5 565.2 762.1 567.2 757.3 569.2 752.9 571.2 749.1 573.2 745.8 575.2 743.1 577.2 740.7 579.2 738.7 581.2 737.1 583.2 735.7 585.2 734.6 587.2 733.7 589.2 733.1 591.2 732.7 593.2 732.6 595.2 732.7 597.2 733.1 599.2 733.7 601.2 734.6 603.2 735.8 605.2 737.4 607.2 739.3 609.2 741.5 611.2 744.0 613.2 746.9 615.2 750.0 617.2 753.5 619.2 757.3 621.2 761.2 623.2 765.3 625.2 769.4 627.2 773.5 629.2 777.6 631.2 781.6 633.2 785.5 635.2 789.3 637.2 793.1 639.2 796.7 641.2 800.2 643.2 803.6 645.2 806.9 647.2 810.1 649.2 813.0 651.2 815.9 653.2 818.5 655.2 820.9 657.2 823.1 659.2 825.1 661.2 826.9 663.2 828.4 665.2 829.7 667.2 830.7 669.2 831.6 671.2 832.4 673.2 833.0 675.2 833.4 677.2 833.8 679.2 833.9 681.2 833.9 683.2 833.9 685.2 833.8 687.2 833.6 689.2 833.4 691.2 833.2 693.3 832.9 695.3 832.6 697.3 832.3 699.3 832.0 701.3 831.7 703.3 831.4 705.3 831.1 707.3 830.8 709.3 830.5 711.3 830.3 713.3 830.0 715.3 829.8 717.3 829.6 719.3 829.4 721.3 829.3 723.3 829.2 725.3 829.1 727.3 829.0 729.3 829.0 731.3 829.0 733.3 829.1 735.3 829.2 737.3 829.3 739.3 829.5 741.3 829.6 743.3 829.8 745.3 830.0 747.3 830.2 749.3 830.4 751.3 830.6 753.3 830.9 755.3 831.1 757.3 831.3 759.3 831.5 761.3 831.8 763.3 832.0 765.3 832.2 767.3 832.5 769.3 832.7 771.3 832.9 773.3 833.2 775.3 833.4 777.3 833.6 779.3 833.8 781.3 834.0 783.3 834.1 785.3 834.2 787.3 834.1 789.3 834.0 791.3 833.8 793.3 833.5 795.3 833.0 797.3 832.5 799.3 832.0 801.3 831.4 803.3 830.8 805.3 830.2 807.3 829.6 809.3 829.1 811.3 828.6 813.3 828.1 815.3 827.6 817.3 827.2 819.3 826.9 821.3 826.6 823.3 826.3 825.3 826.1 827.3 826.0 829.3 826.0 831.3 826.1 833.3 826.3 835.3 826.6 837.3 827.0 839.3 827.5 841.3 827.9 843.3 828.4 845.3 828.9 847.3 829.3 849.3 829.7 851.3 829.9 853.3 830.1 855.3 830.1 857.3 829.9 859.3 829.6 861.3 829.1 863.3 828.6 865.3 828.0 867.3 827.3 869.3 826.7 871.3 826.0 873.3 825.3 875.3 824.7 877.3 824.2 879.3 823.7 881.3 823.2 883.3 822.8 885.3 822.5 887.3 822.2 889.3 822.0 891.3 821.8 893.3 821.8 895.3 821.9 897.3 822.1 899.3 822.4 901.3 822.9 903.3 823.4 905.4 824.1 907.4 824.8 909.4 825.6 911.4 826.6 913.4 827.7 915.4 828.9 917.4 830.2 919.4 831.4 921.4 832.7 923.4 833.8 925.4 834.7 927.4 835.4 929.4 835.8 931.4 835.9 933.4 835.6 935.4 834.9 937.4 833.9 939.4 832.7 941.4 831.3 943.4 829.9 945.4 828.5 947.4 827.1 949.4 825.8 951.4 824.7 953.4 823.6 955.4 822.5 957.4 821.6 959.4 820.7 961.4 819.9 963.4 819.1 965.4 818.5 967.4 818.0 969.4 817.6 971.4 817.3 973.4 817.2 975.4 817.2 977.4 817.3 979.4 817.5 981.4 817.7 983.4 818.0 985.4 818.4 987.4 818.8 989.4 819.3 991.4 819.8 993.4 820.3 995.4 820.8 997.4 821.4 999.4 821.9 1001.4 822.5 1003.4 823.1 1005.4 823.6 1007.4 824.2 1009.4 824.7 1011.4 825.1 1013.4 825.5 1015.4 825.9 1017.4 826.1 1019.4 826.3 1021.4 826.4 1023.4 826.4 1025.4 826.4 1027.4 826.3 1029.4 826.2 1031.4 826.2 1033.4 826.1 1035.4 826.1 1037.4 826.1 1039.4 826.2 1041.4 826.4 1043.4 826.7 1045.4 827.0 1047.4 827.4 1049.4 827.7 1051.4 828.1 1053.4 828.5 1055.4 829.0 1057.4 829.5 1059.4 829.9 1061.4 830.4 1063.4 830.9 1065.4 831.4 1067.4 831.9 1069.4 832.3 1071.4 832.8 1073.4 833.2 1075.4 833.6 1077.4 834.0 1079.4 834.3 1081.4 834.6 1083.4 834.8 1085.4 834.9 1087.4 834.9 1089.4 834.8 1091.4 834.6 1093.4 834.4 1095.4 834.1 1097.4 833.8 1099.4 833.6 1101.4 833.4 1103.4 833.2 1105.4 833.0 1107.4 832.9 1109.4 832.8 1111.4 832.7 1113.4 832.7 1115.4 832.6 1117.4 832.7 1119.5 832.7 1121.5 832.9 1123.5 833.1 1125.5 833.3 1127.5 833.7 1129.5 834.0 1131.5 834.5 1133.5 834.9 1135.5 835.5 1137.5 836.1 1139.5 836.7 1141.5 837.2 1143.5 837.6 1145.5 837.7 1147.5 837.6 1149.5 837.3 1151.5 836.8 1153.5 836.1 1155.5 835.4 1157.5 834.6 1159.5 833.9 1161.5 833.1 1163.5 832.4 1165.5 831.8 1167.5 831.2 1169.5 830.7 1171.5 830.3 1173.5 829.9 1175.5 829.5 1177.5 829.2 1179.5 828.9 1181.5 828.6 1183.5 828.4 1185.5 828.1 1187.5 827.9 1189.5 827.7 1191.5 827.6 1193.5 827.5 1195.5 827.5 1197.5 827.6 1199.5 827.7 1201.5 828.0 1203.5 828.3 1205.5 828.6 1207.5 829.0 1209.5 829.5 1211.5 829.9 1213.5 830.4 1215.5 830.9 1217.5 831.4 1219.5 831.9 1221.5 832.4 1223.5 832.9 1225.5 833.4"/>
<path stroke="#006e00" d="M157.0 645.5L159.0 645.2 161.0 644.9 163.0 644.6 165.0 644.4 167.0 644.1 169.0 643.8 171.0 643.5 173.0 643.3 175.0 643.0 177.0 642.7 179.0 642.4 181.0 642.1 183.0 641.8 185.0 641.6 187.0 641.3 189.0 641.1 191.0 640.9 193.0 640.8 195.0 640.6 197.0 640.5 199.0 640.5 201.0 640.5 203.0 640.7 205.0 640.9 207.0 641.1 209.0 641.4 211.0 641.8 213.0 642.1 215.0 642.4 217.0 642.7 219.0 643.0 221.0 643.1 223.0 643.2 225.0 643.2 227.0 643.0 229.0 642.8 231.0 642.5 233.0 642.2 235.0 641.8 237.0 641.4 239.0 640.9 241.0 640.4 243.0 639.9 245.0 639.4 247.0 638.9 249.0 638.4 251.0 637.8 253.0 637.3 255.0 636.8 257.0 636.4 259.0 636.0 261.0 635.6 263.0 635.3 265.1 635.1 267.1 634.9 269.1 634.9 271.1 635.0 273.1 635.3 275.1 635.7 277.1 636.1 279.1 636.7 281.1 637.2 283.1 637.7 285.1 638.3 287.1 638.8 289.1 639.4 291.1 639.8 293.1 640.2 295.1 640.4 297.1 640.5 299.1 640.3 301.1 639.7 303.1 638.8 305.1 637.7 307.1 636.4 309.1 634.9 311.1 633.2 313.1 631.4 315.1 629.5 317.1 627.6 319.1 625.6 321.1 623.6 323.1 621.8 325.1 620.1 327.1 618.5 329.1 617.0 331.1 615.7 333.1 614.5 335.1 613.4 337.1 612.6 339.1 611.9 341.1 611.5 343.1 611.4 345.1 611.5 347.1 611.7 349.1 612.1 351.1 612.6 353.1 613.2 355.1 613.9 357.1 614.7 359.1 615.5 361.1 616.4 363.1 617.3 365.1 618.1 367.1 618.8 369.1 619.2 371.1 619.3 373.1 618.7 375.1 617.4 377.1 615.4 379.1 612.5 381.1 608.8 383.1 604.5 385.1 599.8 387.1 594.8 389.1 589.5 391.1 584.2 393.1 578.8 395.1 573.4 397.1 568.1 399.1 562.8 401.1 557.5 403.1 552.3 405.1 547.1 407.1 542.0 409.1 537.0 411.1 532.2 413.1 527.5 415.1 523.0 417.1 518.9 419.1 515.2 421.1 512.1 423.1 509.3 425.1 507.1 427.1 505.5 429.1 504.3 431.1 503.6 433.1 503.4 435.1 503.5 437.1 504.1 439.1 505.0 441.1 506.3 443.1 508.0 445.1 510.1 447.1 512.5 449.1 515.2 451.1 518.4 453.1 521.9 455.1 526.0 457.1 530.6 459.1 535.4 461.1 540.5 463.1 545.6 465.1 550.8 467.1 555.9 469.1 560.9 471.1 565.8 473.1 570.6 475.1 575.1 477.1 579.4 479.2 583.4 481.2 586.9 483.2 589.9 485.2 592.2 487.2 593.8 489.2 594.4 491.2 594.2 493.2 593.5 495.2 592.5 497.2 591.2 499.2 589.7 501.2 588.1 503.2 586.5 505.2 584.9 507.2 583.4 509.2 582.1 511.2 581.0 513.2 580.1 515.2 579.6 517.2 579.7 519.2 580.5 521.2 581.9 523.2 583.9 525.2 586.4 527.2 589.3 529.2 592.4 531.2 595.8 533.2 599.4 535.2 603.2 537.2 607.1 539.2 611.2 541.2 615.4 543.2 619.5 545.2 623.4 547.2 626.7 549.2 629.0 551.2 629.8 553.2 628.9 555.2 626.0 557.2 621.4 559.2 615.1 561.2 607.8 563.2 600.1 565.2 592.4 567.2 585.4 569.2 578.8 571.2 572.6 573.2 566.7 575.2 561.1 577.2 555.6 579.2 550.3 581.2 545.2 583.2 540.4 585.2 536.0 587.2 532.1 589.2 528.8 591.2 526.1 593.2 524.0 595.2 522.3 597.2 521.0 599.2 519.8 601.2 518.9 603.2 518.3 605.2 518.1 607.2 518.3 609.2 518.9 611.2 519.8 613.2 521.2 615.2 523.0 617.2 525.2 619.2 527.8 621.2 530.7 623.2 533.8 625.2 537.3 627.2 541.1 629.2 545.2 631.2 549.5 633.2 553.8 635.2 558.4 637.2 563.0 639.2 567.8 641.2 572.7 643.2 577.7 645.2 582.7 647.2 587.7 649.2 592.8 651.2 597.9 653.2 603.0 655.2 608.2 657.2 613.3 659.2 618.2 661.2 623.0 663.2 627.6 665.2 631.7 667.2 635.2 669.2 637.7 671.2 639.0 673.2 638.9 675.2 638.1 677.2 636.8 679.2 635.1 681.2 633.3 683.2 631.6 685.2 630.1 687.2 628.7 689.2 627.4 691.2 626.2 693.3 625.1 695.3 624.1 697.3 623.4 699.3 622.8 701.3 622.4 703.3 622.1 705.3 622.1 707.3 622.2 709.3 622.4 711.3 622.7 713.3 623.2 715.3 623.7 717.3 624.4 719.3 625.1 721.3 625.9 723.3 626.8 725.3 627.7 727.3 628.6 729.3 629.5 731.3 630.4 733.3 631.4 735.3 632.3 737.3 633.3 739.3 634.3 741.3 635.2 743.3 636.2 745.3 637.2 747.3 638.1 749.3 639.1 751.3 640.0 753.3 640.9 755.3 641.8 757.3 642.6 759.3 643.4 761.3 644.1 763.3 644.7 765.3 645.3 767.3 645.8 769.3 646.2 771.3 646.6 773.3 646.9 775.3 647.1 777.3 647.3 779.3 647.5 781.3 647.6 783.3 647.8 785.3 647.9 787.3 648.0 789.3 648.2 791.3 648.3 793.3 648.5 795.3 648.7 797.3 648.9 799.3 649.1 801.3 649.2 803.3 649.4 805.3 649.6 807.3 649.7 809.3 649.8 811.3 649.9 813.3 649.9 815.3 649.9 817.3 649.8 819.3 649.6 821.3 649.4 823.3 649.2 825.3 648.9 827.3 648.6 829.3 648.3 831.3 647.9 833.3 647.6 835.3 647.2 837.3 646.9 839.3 646.5 841.3 646.0 843.3 645.6 845.3 645.2 847.3 644.8 849.3 644.4 851.3 644.0 853.3 643.7 855.3 643.4 857.3 643.1 859.3 642.9 861.3 642.8 863.3 642.8 865.3 642.8 867.3 642.9 869.3 643.1 871.3 643.3 873.3 643.6 875.3 643.9 877.3 644.2 879.3 644.5 881.3 644.8 883.3 645.1 885.3 645.5 887.3 645.9 889.3 646.3 891.3 646.6 893.3 647.0 895.3 647.3 897.3 647.5 899.3 647.7 901.3 647.8 903.3 647.8 905.4 647.7 907.4 647.6 909.4 647.4 911.4 647.1 913.4 646.8 915.4 646.5 917.4 646.2 919.4 645.8 921.4 645.5 923.4 645.2 925.4 644.8 927.4 644.5 929.4 644.2 931.4 643.9 933.4 643.6 935.4 643.4 937.4 643.3 939.4 643.2 941.4 643.2 943.4 643.3 945.4 643.5 947.4 643.7 949.4 644.0 951.4 644.3 953.4 644.7 955.4 645.0 957.4 645.3 959.4 645.6 961.4 645.8 963.4 646.0 965.4 646.1 967.4 646.3 969.4 646.4 971.4 646.4 973.4 646.5 975.4 646.5 977.4 646.4 979.4 646.3 981.4 646.1 983.4 645.8 985.4 645.6 987.4 645.3 989.4 645.0 991.4 644.7 993.4 644.5 995.4 644.3 997.4 644.2 999.4 644.2 1001.4 644.3 1003.4 644.4 1005.4 644.7 1007.4 645.0 1009.4 645.3 1011.4 645.8 1013.4 646.3 1015.4 646.9 1017.4 647.5 1019.4 648.2 1021.4 649.0 1023.4 649.9 1025.4 650.7 1027.4 651.5 1029.4 652.3 1031.4 652.9 1033.4 653.5 1035.4 653.9 1037.4 654.1 1039.4 654.1 1041.4 653.8 1043.4 653.3 1045.4 652.5 1047.4 651.6 1049.4 650.6 1051.4 649.5 1053.4 648.4 1055.4 647.4 1057.4 646.5 1059.4 645.7 1061.4 645.0 1063.4 644.4 1065.4 643.8 1067.4 643.3 1069.4 642.9 1071.4 642.5 1073.4 642.3 1075.4 642.1 1077.4 642.1 1079.4 642.1 1081.4 642.2 1083.4 642.4 1085.4 642.6 1087.4 642.8 1089.4 643.1 1091.4 643.5 1093.4 643.9 1095.4 644.3 1097.4 644.7 1099.4 645.2 1101.4 645.7 1103.4 646.2 1105.4 646.8 1107.4 647.4 1109.4 648.0 1111.4 648.6 1113.4 649.1 1115.4 649.7 1117.4 650.2 1119.5 650.6 1121.5 650.9 1123.5 651.2 1125.5 651.3 1127.5 651.3 1129.5 651.2 1131.5 651.0 1133.5 650.8 1135.5 650.5 1137.5 650.2 1139.5 649.8 1141.5 649.5 1143.5 649.2 1145.5 648.9 1147.5 648.7 1149.5 648.4 1151.5 648.2 1153.5 648.0 1155.5 647.9 1157.5 647.8 1159.5 647.8 1161.5 647.8 1163.5 647.9 1165.5 648.2 1167.5 648.5 1169.5 648.9 1171.5 649.3 1173.5 649.7 1175.5 650.1 1177.5 650.4 1179.5 650.6 1181.5 650.6 1183.5 650.5 1185.5 650.4 1187.5 650.2 1189.5 649.9 1191.5 649.6 1193.5 649.2 1195.5 648.8 1197.5 648.4 1199.5 648.0 1201.5 647.5 1203.5 647.1 1205.5 646.7 1207.5 646.3 1209.5 645.9 1211.5 645.6 1213.5 645.2 1215.5 644.9 1217.5 644.5 1219.5 644.2 1221.5 643.9 1223.5 643.5 1225.5 643.2"/>
<path stroke="#ff9600" d="M157.0 460.5L159.0 460.7 161.0 460.9 163.0 461.1 165.0 461.2 167.0 461.4 169.0 461.5 171.0 461.7 173.0 461.8 175.0 461.9 177.0 462.0 179.0 462.0 181.0 462.1 183.0 462.1 185.0 462.1 187.0 462.1 189.0 462.1 191.0 462.0 193.0 462.0 195.0 461.9 197.0 461.8 199.0 461.7 201.0 461.6 203.0 461.5 205.0 461.3 207.0 461.1 209.0 460.9 211.0 460.7 213.0 460.5 215.0 460.3 217.0 460.1 219.0 459.9 221.0 459.7 223.0 459.5 225.0 459.4 227.0 459.2 229.0 459.1 231.0 459.0 233.0 459.0 235.0 458.9 237.0 458.9 239.0 458.9 241.0 458.9 243.0 458.9 245.0 458.9 247.0 458.9 249.0 458.8 251.0 458.7 253.0 458.7 255.0 458.5 257.0 458.3 259.0 458.1 261.0 457.8 263.0 457.5 265.1 457.2 267.1 456.8 269.1 456.4 271.1 456.0 273.1 455.6 275.1 455.3 277.1 454.9 279.1 454.6 281.1 454.4 283.1 454.2 285.1 454.0 287.1 454.0 289.1 454.1 291.1 454.3 293.1 454.6 295.1 455.0 297.1 455.5 299.1 455.9 301.1 456.2 303.1 456.4 305.1 456.6 307.1 456.7 309.1 456.8 311.1 456.7 313.1 456.4 315.1 456.1 317.1 455.5 319.1 454.7 321.1 453.8 323.1 452.6 325.1 451.3 327.1 449.9 329.1 448.4 331.1 446.7 333.1 445.0 335.1 443.2 337.1 441.4 339.1 439.7 341.1 438.0 343.1 436.5 345.1 435.1 347.1 433.7 349.1 432.5 351.1 431.5 353.1 430.6 355.1 430.0 357.1 429.5 359.1 429.3 361.1 429.3 363.1 429.6 365.1 430.1 367.1 430.8 369.1 431.7 371.1 432.8 373.1 434.0 375.1 435.4 377.1 437.0 379.1 438.6 381.1 440.2 383.1 441.5 385.1 442.3 387.1 442.7 389.1 442.3 391.1 441.0 393.1 438.9 395.1 435.9 397.1 431.9 399.1 427.3 401.1 422.3 403.1 416.9 405.1 411.3 407.1 405.6 409.1 399.8 411.1 394.0 413.1 388.4 415.1 383.0 417.1 377.9 419.1 373.2 421.1 369.0 423.1 365.2 425.1 361.6 427.1 358.2 429.1 355.0 431.1 351.8 433.1 348.9 435.1 346.1 437.1 343.7 439.1 341.7 441.1 340.3 443.1 339.3 445.1 338.8 447.1 338.6 449.1 338.8 451.1 339.4 453.1 340.5 455.1 342.0 457.1 344.1 459.1 346.6 461.1 349.6 463.1 353.0 465.1 356.9 467.1 361.1 469.1 365.7 471.1 370.6 473.1 375.7 475.1 380.9 477.1 386.1 479.2 391.2 481.2 396.1 483.2 400.8 485.2 405.2 487.2 409.4 489.2 413.2 491.2 416.7 493.2 419.5 495.2 421.7 497.2 423.0 499.2 423.3 501.2 422.8 503.2 421.5 505.2 419.9 507.2 418.0 509.2 416.0 511.2 414.3 513.2 412.7 515.2 411.4 517.2 410.4 519.2 409.7 521.2 409.3 523.2 409.3 525.2 409.8 527.2 410.8 529.2 412.3 531.2 414.1 533.2 416.4 535.2 418.9 537.2 421.8 539.2 424.9 541.2 428.1 543.2 431.4 545.2 434.6 547.2 437.7 549.2 440.3 551.2 442.1 553.2 442.8 555.2 441.8 557.2 439.1 559.2 434.8 561.2 429.4 563.2 423.3 565.2 416.7 567.2 409.7 569.2 402.4 571.2 394.9 573.2 387.3 575.2 379.8 577.2 372.4 579.2 365.4 581.2 358.8 583.2 352.7 585.2 347.1 587.2 341.9 589.2 337.2 591.2 332.9 593.2 329.2 595.2 325.9 597.2 323.0 599.2 320.5 601.2 318.4 603.2 316.7 605.2 315.3 607.2 314.5 609.2 314.0 611.2 314.1 613.2 314.6 615.2 315.5 617.2 316.9 619.2 318.7 621.2 321.0 623.2 323.6 625.2 326.6 627.2 329.9 629.2 333.5 631.2 337.5 633.2 341.9 635.2 346.7 637.2 351.6 639.2 356.8 641.2 362.2 643.2 367.7 645.2 373.2 647.2 378.9 649.2 384.7 651.2 390.4 653.2 396.2 655.2 402.1 657.2 407.9 659.2 413.6 661.2 419.4 663.2 424.9 665.2 430.2 667.2 435.1 669.2 439.6 671.2 443.4 673.2 446.3 675.2 448.4 677.2 449.6 679.2 449.8 681.2 449.3 683.2 448.4 685.2 447.3 687.2 446.1 689.2 445.0 691.2 444.0 693.3 443.2 695.3 442.5 697.3 441.9 699.3 441.5 701.3 441.3 703.3 441.3 705.3 441.5 707.3 441.8 709.3 442.3 711.3 442.9 713.3 443.7 715.3 444.6 717.3 445.7 719.3 446.7 721.3 447.9 723.3 449.1 725.3 450.4 727.3 451.7 729.3 453.0 731.3 454.3 733.3 455.6 735.3 456.9 737.3 458.3 739.3 459.6 741.3 460.8 743.3 461.8 745.3 462.6 747.3 463.0 749.3 463.1 751.3 462.9 753.3 462.6 755.3 462.2 757.3 461.7 759.3 461.1 761.3 460.5 763.3 459.9 765.3 459.4 767.3 458.8 769.3 458.3 771.3 457.9 773.3 457.5 775.3 457.1 777.3 456.7 779.3 456.3 781.3 456.0 783.3 455.6 785.3 455.4 787.3 455.1 789.3 454.9 791.3 454.7 793.3 454.5 795.3 454.3 797.3 454.1 799.3 453.9 801.3 453.7 803.3 453.5 805.3 453.4 807.3 453.2 809.3 453.2 811.3 453.2 813.3 453.3 815.3 453.5 817.3 453.7 819.3 454.0 821.3 454.4 823.3 454.8 825.3 455.3 827.3 455.8 829.3 456.4 831.3 457.0 833.3 457.6 835.3 458.3 837.3 459.0 839.3 459.7 841.3 460.4 843.3 461.2 845.3 461.9 847.3 462.7 849.3 463.3 851.3 464.0 853.3 464.5 855.3 464.9 857.3 465.3 859.3 465.5 861.3 465.5 863.3 465.3 865.3 464.9 867.3 464.3 869.3 463.6 871.3 462.8 873.3 461.9 875.3 461.0 877.3 460.2 879.3 459.4 881.3 458.7 883.3 458.1 885.3 457.6 887.3 457.1 889.3 456.7 891.3 456.4 893.3 456.1 895.3 455.9 897.3 455.9 899.3 455.9 901.3 456.0 903.3 456.2 905.4 456.5 907.4 456.9 909.4 457.3 911.4 457.7 913.4 458.3 915.4 458.8 917.4 459.5 919.4 460.1 921.4 460.8 923.4 461.6 925.4 462.4 927.4 463.2 929.4 464.0 931.4 464.7 933.4 465.4 935.4 466.0 937.4 466.4 939.4 466.6 941.4 466.6 943.4 466.3 945.4 465.9 947.4 465.3 949.4 464.6 951.4 463.9 953.4 463.0 955.4 462.2 957.4 461.4 959.4 460.7 961.4 460.1 963.4 459.5 965.4 458.9 967.4 458.4 969.4 458.0 971.4 457.5 973.4 457.2 975.4 456.8 977.4 456.5 979.4 456.2 981.4 455.9 983.4 455.7 985.4 455.5 987.4 455.4 989.4 455.2 991.4 455.1 993.4 455.1 995.4 455.1 997.4 455.1 999.4 455.1 1001.4 455.3 1003.4 455.4 1005.4 455.6 1007.4 455.8 1009.4 456.0 1011.4 456.2 1013.4 456.4 1015.4 456.7 1017.4 457.0 1019.4 457.2 1021.4 457.5 1023.4 457.8 1025.4 458.1 1027.4 458.4 1029.4 458.7 1031.4 459.0 1033.4 459.3 1035.4 459.6 1037.4 459.9 1039.4 460.1 1041.4 460.3 1043.4 460.5 1045.4 460.7 1047.4 460.8 1049.4 460.9 1051.4 460.9 1053.4 460.9 1055.4 460.9 1057.4 460.9 1059.4 460.9 1061.4 460.8 1063.4 460.8 1065.4 460.7 1067.4 460.7 1069.4 460.6 1071.4 460.6 1073.4 460.6 1075.4 460.6 1077.4 460.6 1079.4 460.6 1081.4 460.6 1083.4 460.6 1085.4 460.7 1087.4 460.8 1089.4 460.9 1091.4 461.0 1093.4 461.2 1095.4 461.5 1097.4 461.7 1099.4 462.0 1101.4 462.3 1103.4 462.7 1105.4 463.0 1107.4 463.3 1109.4 463.7 1111.4 464.1 1113.4 464.4 1115.4 464.8 1117.4 465.1 1119.5 465.5 1121.5 465.8 1123.5 466.1 1125.5 466.4 1127.5 466.7 1129.5 466.9 1131.5 467.0 1133.5 467.1 1135.5 467.1 1137.5 467.0 1139.5 466.9 1141.5 466.7 1143.5 466.5 1145.5 466.2 1147.5 466.0 1149.5 465.7 1151.5 465.4 1153.5 465.0 1155.5 464.7 1157.5 464.3 1159.5 464.0 1161.5 463.7 1163.5 463.5 1165.5 463.4 1167.5 463.4 1169.5 463.5 1171.5 463.8 1173.5 464.0 1175.5 464.4 1177.5 464.7 1179.5 465.1 1181.5 465.4 1183.5 465.6 1185.5 465.8 1187.5 466.0 1189.5 466.1 1191.5 466.2 1193.5 466.3 1195.5 466.2 1197.5 466.2 1199.5 466.0 1201.5 465.9 1203.5 465.7 1205.5 465.4 1207.5 465.2 1209.5 464.9 1211.5 464.6 1213.5 464.2 1215.5 463.9 1217.5 463.5 1219.5 463.2 1221.5 462.8 1223.5 462.4 1225.5 462.0"/>
<path stroke="#ff0000" d="M157.0 277.6L159.0 277.3 161.0 277.1 163.0 276.8 165.0 276.6 167.0 276.4 169.0 276.2 171.0 276.1 173.0 275.9 175.0 275.8 177.0 275.8 179.0 275.7 181.0 275.7 183.0 275.8 185.0 275.9 187.0 276.0 189.0 276.2 191.0 276.4 193.0 276.7 195.0 276.9 197.0 277.2 199.0 277.5 201.0 277.7 203.0 277.9 205.0 278.1 207.0 278.3 209.0 278.3 211.0 278.3 213.0 278.3 215.0 278.1 217.0 277.8 219.0 277.4 221.0 277.0 223.0 276.5 225.0 276.0 227.0 275.4 229.0 274.9 231.0 274.3 233.0 273.8 235.0 273.3 237.0 272.8 239.0 272.4 241.0 272.1 243.0 271.8 245.0 271.7 247.0 271.7 249.0 271.7 251.0 271.9 253.0 272.3 255.0 272.7 257.0 273.3 259.0 274.1 261.0 275.0 263.0 276.3 265.1 277.5 267.1 278.8 269.1 279.8 271.1 280.4 273.1 280.5 275.1 280.1 277.1 279.2 279.1 277.9 281.1 276.4 283.1 274.6 285.1 272.8 287.1 270.9 289.1 269.0 291.1 267.3 293.1 265.7 295.1 264.1 297.1 262.7 299.1 261.3 301.1 260.0 303.1 258.8 305.1 257.8 307.1 256.8 309.1 256.0 311.1 255.3 313.1 254.8 315.1 254.4 317.1 254.2 319.1 254.2 321.1 254.3 323.1 254.6 325.1 254.9 327.1 255.4 329.1 255.9 331.1 256.5 333.1 257.2 335.1 257.9 337.1 258.6 339.1 259.4 341.1 260.3 343.1 261.1 345.1 261.9 347.1 262.6 349.1 263.3 351.1 263.7 353.1 264.0 355.1 264.1 357.1 263.8 359.1 263.3 361.1 262.4 363.1 261.3 365.1 260.0 367.1 258.5 369.1 256.9 371.1 255.2 373.1 253.3 375.1 251.4 377.1 249.5 379.1 247.5 381.1 245.4 383.1 243.3 385.1 241.1 387.1 238.8 389.1 236.5 391.1 234.1 393.1 231.7 395.1 229.3 397.1 226.8 399.1 224.3 401.1 221.8 403.1 219.2 405.1 216.6 407.1 214.0 409.1 211.4 411.1 208.7 413.1 206.0 415.1 203.3 417.1 200.5 419.1 197.8 421.1 195.0 423.1 192.3 425.1 189.6 427.1 187.1 429.1 184.6 431.1 182.4 433.1 180.4 435.1 178.7 437.1 177.2 439.1 176.1 441.1 175.3 443.1 174.8 445.1 174.6 447.1 174.8 449.1 175.3 451.1 176.3 453.1 177.7 455.1 179.4 457.1 181.4 459.1 183.9 461.1 186.5 463.1 189.5 465.1 192.7 467.1 196.1 469.1 199.8 471.1 203.7 473.1 207.8 475.1 212.1 477.1 216.7 479.2 221.2 481.2 225.7 483.2 229.9 485.2 233.8 487.2 237.4 489.2 240.3 491.2 242.5 493.2 243.5 495.2 243.4 497.2 242.3 499.2 240.6 501.2 238.3 503.2 235.6 505.2 232.8 507.2 229.9 509.2 227.1 511.2 224.5 513.2 222.0 515.2 219.7 517.2 217.7 519.2 216.0 521.2 214.8 523.2 214.1 525.2 214.0 527.2 214.6 529.2 215.9 531.2 217.7 533.2 219.9 535.2 222.6 537.2 225.5 539.2 228.6 541.2 232.0 543.2 235.5 545.2 239.2 547.2 242.7 549.2 245.8 551.2 248.5 553.2 250.6 555.2 251.8 557.2 251.9 559.2 250.3 561.2 247.1 563.2 242.6 565.2 237.3 567.2 231.4 569.2 225.1 571.2 218.6 573.2 211.8 575.2 205.1 577.2 198.4 579.2 191.9 581.2 185.7 583.2 179.6 585.2 173.7 587.2 168.0 589.2 162.5 591.2 157.2 593.2 152.4 595.2 148.0 597.2 144.1 599.2 140.8 601.2 138.2 603.2 136.2 605.2 135.0 607.2 134.3 609.2 134.1 611.2 134.4 613.2 135.1 615.2 136.2 617.2 137.9 619.2 140.2 621.2 143.1 623.2 146.6 625.2 150.6 627.2 154.9 629.2 159.4 631.2 164.2 633.2 169.0 635.2 174.0 637.2 179.0 639.2 183.9 641.2 188.9 643.2 194.0 645.2 199.1 647.2 204.3 649.2 209.7 651.2 215.2 653.2 220.9 655.2 226.6 657.2 232.3 659.2 237.8 661.2 243.1 663.2 247.9 665.2 252.0 667.2 255.4 669.2 257.8 671.2 259.1 673.2 259.3 675.2 258.6 677.2 257.3 679.2 255.7 681.2 253.9 683.2 252.1 685.2 250.6 687.2 249.3 689.2 248.2 691.2 247.3 693.3 246.7 695.3 246.3 697.3 246.2 699.3 246.4 701.3 246.9 703.3 247.6 705.3 248.5 707.3 249.7 709.3 251.1 711.3 252.6 713.3 254.3 715.3 256.0 717.3 257.9 719.3 259.9 721.3 262.0 723.3 264.1 725.3 266.2 727.3 268.2 729.3 270.3 731.3 272.3 733.3 274.2 735.3 276.0 737.3 277.5 739.3 278.5 741.3 278.8 743.3 278.5 745.3 277.6 747.3 276.4 749.3 274.9 751.3 273.2 753.3 271.6 755.3 270.0 757.3 268.6 759.3 267.4 761.3 266.2 763.3 265.1 765.3 264.1 767.3 263.2 769.3 262.3 771.3 261.5 773.3 260.7 775.3 259.9 777.3 259.2 779.3 258.5 781.3 257.9 783.3 257.3 785.3 256.7 787.3 256.2 789.3 255.8 791.3 255.4 793.3 255.1 795.3 254.9 797.3 254.8 799.3 254.8 801.3 254.9 803.3 255.0 805.3 255.3 807.3 255.6 809.3 256.1 811.3 256.6 813.3 257.2 815.3 257.9 817.3 258.6 819.3 259.5 821.3 260.4 823.3 261.3 825.3 262.3 827.3 263.4 829.3 264.4 831.3 265.5 833.3 266.7 835.3 267.8 837.3 269.0 839.3 270.3 841.3 271.5 843.3 272.8 845.3 274.1 847.3 275.4 849.3 276.8 851.3 278.0 853.3 279.2 855.3 280.3 857.3 281.3 859.3 282.1 861.3 282.7 863.3 283.1 865.3 283.2 867.3 283.0 869.3 282.3 871.3 281.5 873.3 280.4 875.3 279.3 877.3 278.2 879.3 277.1 881.3 276.3 883.3 275.6 885.3 275.1 887.3 274.6 889.3 274.2 891.3 274.0 893.3 273.8 895.3 273.6 897.3 273.6 899.3 273.7 901.3 273.8 903.3 274.0 905.4 274.1 907.4 274.3 909.4 274.6 911.4 274.8 913.4 275.0 915.4 275.3 917.4 275.6 919.4 275.9 921.4 276.2 923.4 276.5 925.4 276.8 927.4 277.1 929.4 277.5 931.4 277.8 933.4 278.1 935.4 278.3 937.4 278.5 939.4 278.7 941.4 278.9 943.4 279.0 945.4 279.0 947.4 278.9 949.4 278.8 951.4 278.5 953.4 278.1 955.4 277.7 957.4 277.2 959.4 276.7 961.4 276.2 963.4 275.6 965.4 275.1 967.4 274.5 969.4 274.0 971.4 273.5 973.4 272.9 975.4 272.4 977.4 271.9 979.4 271.4 981.4 270.9 983.4 270.4 985.4 269.9 987.4 269.4 989.4 268.9 991.4 268.5 993.4 268.0 995.4 267.6 997.4 267.2 999.4 266.9 1001.4 266.5 1003.4 266.2 1005.4 266.0 1007.4 265.7 1009.4 265.5 1011.4 265.3 1013.4 265.2 1015.4 265.0 1017.4 264.9 1019.4 264.8 1021.4 264.8 1023.4 264.8 1025.4 264.8 1027.4 264.8 1029.4 264.9 1031.4 265.0 1033.4 265.2 1035.4 265.3 1037.4 265.5 1039.4 265.7 1041.4 266.0 1043.4 266.2 1045.4 266.5 1047.4 266.9 1049.4 267.2 1051.4 267.6 1053.4 268.0 1055.4 268.5 1057.4 268.9 1059.4 269.4 1061.4 269.9 1063.4 270.4 1065.4 270.9 1067.4 271.5 1069.4 272.0 1071.4 272.5 1073.4 273.1 1075.4 273.7 1077.4 274.3 1079.4 274.9 1081.4 275.5 1083.4 276.1 1085.4 276.7 1087.4 277.4 1089.4 278.0 1091.4 278.6 1093.4 279.2 1095.4 279.8 1097.4 280.4 1099.4 280.9 1101.4 281.4 1103.4 281.8 1105.4 282.1 1107.4 282.4 1109.4 282.6 1111.4 282.7 1113.4 282.6 1115.4 282.4 1117.4 282.1 1119.5 281.8 1121.5 281.4 1123.5 281.0 1125.5 280.6 1127.5 280.2 1129.5 279.8 1131.5 279.5 1133.5 279.2 1135.5 279.0 1137.5 279.0 1139.5 279.0 1141.5 279.0 1143.5 279.2 1145.5 279.3 1147.5 279.5 1149.5 279.7 1151.5 279.9 1153.5 280.1 1155.5 280.4 1157.5 280.6 1159.5 280.8 1161.5 280.9 1163.5 281.0 1165.5 281.1 1167.5 281.2 1169.5 281.2 1171.5 281.2 1173.5 281.2 1175.5 281.1 1177.5 281.1 1179.5 281.0 1181.5 280.9 1183.5 280.8 1185.5 280.7 1187.5 280.6 1189.5 280.6 1191.5 280.5 1193.5 280.4 1195.5 280.3 1197.5 280.2 1199.5 280.2 1201.5 280.1 1203.5 280.1 1205.5 280.0 1207.5 280.0 1209.5 279.9 1211.5 279.9 1213.5 279.9 1215.5 279.8 1217.5 279.8 1219.5 279.8 1221.5 279.7 1223.5 279.7 1225.5 279.7"/>
</g>
<g stroke="#000" stroke-width="7.3" stroke-dasharray="30.4 22.255">
<line x1="430" y1="25.8" x2="430" y2="1584"/>
<line x1="594.8" y1="25.8" x2="594.8" y2="1584"/>
</g>
<g font-size="87" text-anchor="middle">
<text transform="translate(160,1712.8) scale(1,1.02)">0</text>
<text transform="translate(338,1712.8) scale(1,1.02)">1</text>
<text transform="translate(513.8,1712.8) scale(1,1.02)">2</text>
<text transform="translate(689.8,1712.8) scale(1,1.02)">3</text>
<text transform="translate(869.2,1712.8) scale(1,1.02)">4</text>
<text transform="translate(1045.3,1712.8) scale(1,1.02)">5</text>
<text transform="translate(1224,1712.8) scale(1,1.02)">6</text>
</g>
<text transform="translate(688.5,1821) scale(1,1.02)" font-size="84" text-anchor="middle">R / Å</text>
<text transform="translate(88.7,817.7) rotate(-90) scale(1,1.015)" font-size="82.7" text-anchor="middle">|FT of k<tspan font-size="55" font-weight="normal" stroke="#000" stroke-width="0.8" dy="-21.5">3</tspan><tspan dy="21.5" font-style="italic">χ</tspan>(k)|</text>
<g font-size="84" text-anchor="end">
<text transform="translate(1120.04,241) scale(1,1.04)">5</text><text transform="translate(1194.7,241) scale(1,0.985)"> h</text>
<text transform="translate(1114.64,426.8) scale(1,1.04)">1</text><text transform="translate(1189.3,426.8) scale(1,0.985)"> h</text>
<text transform="translate(1020.55,605.3) scale(0.983,1.04)">30</text><text transform="translate(1190.3,605.3) scale(0.983,0.985)"> min</text>
<text transform="translate(1019.23,781.3) scale(0.986,1.04)">15</text><text transform="translate(1189.5,781.3) scale(0.986,0.985)"> min</text>
<text transform="translate(1113.44,981.2) scale(1,1.04)">0</text><text transform="translate(1188.1,981.2) scale(1,0.985)"> h</text>
<text transform="translate(1184,1335.8) scale(0.976,1.025)">PdO</text>
<text transform="translate(1177.1,1545.6) scale(0.989,0.995)">Pd foil</text>
<text transform="translate(1181,1165.2) scale(0.98,1.015)">Pd/SrTiO<tspan font-size="57.5" font-weight="normal" stroke="#000" stroke-width="0.8" dx="-1.6" dy="18">3</tspan></text>
</g>
</svg>
</div>
</body></html>
